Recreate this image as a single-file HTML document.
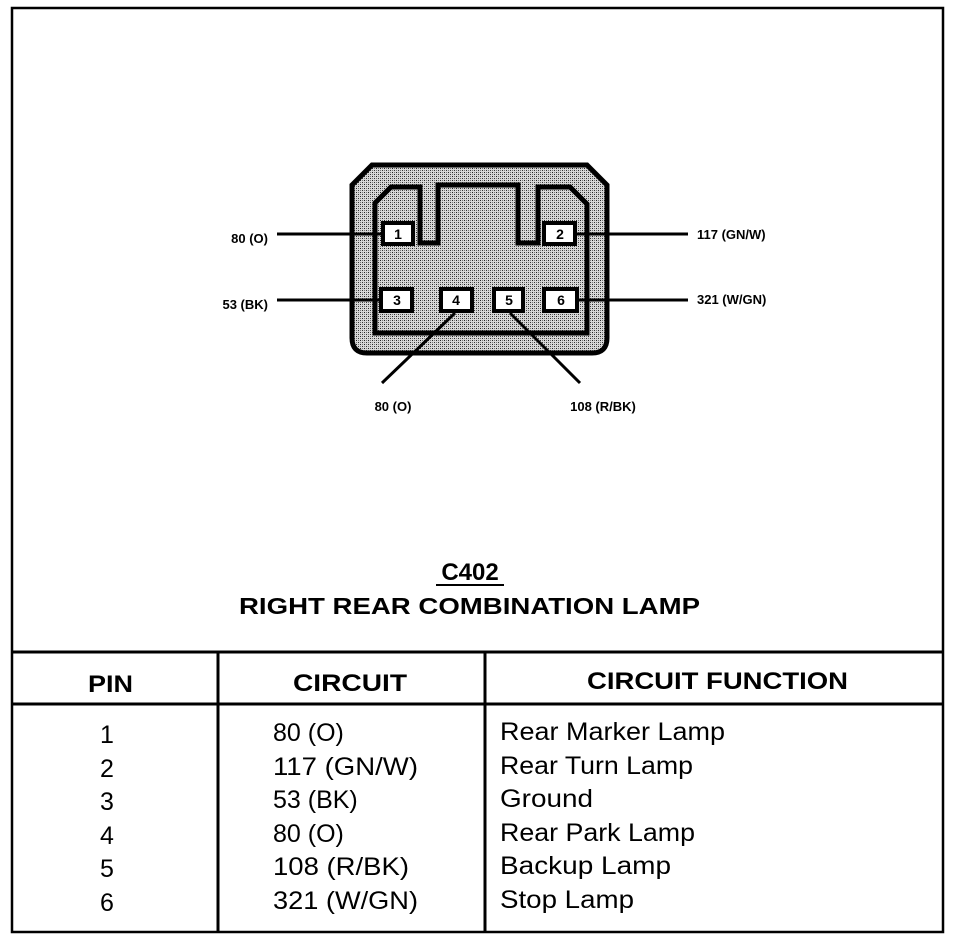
<!DOCTYPE html>
<html><head><style>html,body{margin:0;padding:0;background:#fff}svg{display:block}</style></head>
<body>
<svg width="976" height="940" viewBox="0 0 976 940" xmlns="http://www.w3.org/2000/svg" font-family="Liberation Sans, Arial, sans-serif">
<defs>
<pattern id="dots" width="4" height="4" patternUnits="userSpaceOnUse">
<rect width="4" height="4" fill="#d8d8d8"/>
<rect x="0" y="0" width="1" height="1" fill="#222"/>
<rect x="2" y="2" width="1" height="1" fill="#333"/>
<rect x="2" y="0" width="1" height="1" fill="#777"/>
<rect x="0" y="2" width="1" height="1" fill="#777"/>
</pattern>
</defs>
<rect x="12" y="8" width="931" height="924" fill="none" stroke="#000" stroke-width="2.5"/>
<!-- connector -->
<path d="M372,165 L587,165 L607,185 L607,338 Q607,353 592,353 L367,353 Q352,353 352,338 L352,185 Z" fill="url(#dots)" stroke="#000" stroke-width="5"/>
<path d="M375,203 L391,187 L420,187 L420,243 L438,243 L438,185 L518,185 L518,243 L538,243 L538,187 L570,187 L587,204 L587,333 L375,333 Z" fill="none" stroke="#000" stroke-width="5"/>
<g stroke="#000" stroke-width="3">
<line x1="277" y1="234" x2="382" y2="234"/>
<line x1="575" y1="234" x2="688" y2="234"/>
<line x1="277" y1="300" x2="380" y2="300"/>
<line x1="577" y1="300" x2="688" y2="300"/>
<line x1="455" y1="313" x2="382" y2="383"/>
<line x1="510" y1="313" x2="580" y2="383"/>
</g>
<g fill="#fff" stroke="#000" stroke-width="4">
<rect x="383" y="223" width="30" height="21"/>
<rect x="544" y="223" width="31" height="21"/>
<rect x="381" y="289" width="31" height="22"/>
<rect x="441" y="289" width="31" height="22"/>
<rect x="494" y="289" width="29" height="22"/>
<rect x="544" y="289" width="33" height="22"/>
</g>
<g font-size="14" font-weight="bold" text-anchor="middle">
<text x="398" y="239">1</text><text x="560" y="239">2</text>
<text x="397" y="305">3</text><text x="456" y="305">4</text>
<text x="509" y="305">5</text><text x="561" y="305">6</text>
</g>
<g font-size="13" font-weight="bold">
<text x="268" y="243" text-anchor="end">80 (O)</text>
<text x="268" y="309" text-anchor="end">53 (BK)</text>
<text x="697" y="239">117 (GN/W)</text>
<text x="697" y="304">321 (W/GN)</text>
<text x="393" y="411" text-anchor="middle">80 (O)</text>
<text x="603" y="411" text-anchor="middle">108 (R/BK)</text>
</g>
<text x="470" y="580" font-size="24" font-weight="bold" text-anchor="middle">C402</text>
<line x1="436" y1="585" x2="504" y2="585" stroke="#000" stroke-width="2"/>
<text x="239" y="614" font-size="23" font-weight="bold" textLength="461" lengthAdjust="spacingAndGlyphs">RIGHT REAR COMBINATION LAMP</text>
<!-- table -->
<g stroke="#000" stroke-width="3">
<line x1="12" y1="652" x2="943" y2="652"/>
<line x1="12" y1="704" x2="943" y2="704"/>
<line x1="218" y1="652" x2="218" y2="932"/>
<line x1="485" y1="652" x2="485" y2="932"/>
</g>
<g font-size="24" font-weight="bold">
<text x="88" y="692" textLength="45" lengthAdjust="spacingAndGlyphs">PIN</text>
<text x="293" y="691" textLength="114" lengthAdjust="spacingAndGlyphs">CIRCUIT</text>
<text x="587" y="689" textLength="261" lengthAdjust="spacingAndGlyphs">CIRCUIT FUNCTION</text>
</g>
<g font-size="25">
<text x="107" y="743" text-anchor="middle">1</text>
<text x="107" y="777" text-anchor="middle">2</text>
<text x="107" y="810" text-anchor="middle">3</text>
<text x="107" y="844" text-anchor="middle">4</text>
<text x="107" y="877" text-anchor="middle">5</text>
<text x="107" y="911" text-anchor="middle">6</text>
<text x="273" y="741">80 (O)</text>
<text x="273" y="775" textLength="145" lengthAdjust="spacingAndGlyphs">117 (GN/W)</text>
<text x="273" y="808">53 (BK)</text>
<text x="273" y="842">80 (O)</text>
<text x="273" y="875" textLength="136" lengthAdjust="spacingAndGlyphs">108 (R/BK)</text>
<text x="273" y="909" textLength="145" lengthAdjust="spacingAndGlyphs">321 (W/GN)</text>
<text x="500" y="740" textLength="225" lengthAdjust="spacingAndGlyphs">Rear Marker Lamp</text>
<text x="500" y="774" textLength="193" lengthAdjust="spacingAndGlyphs">Rear Turn Lamp</text>
<text x="500" y="807" textLength="93" lengthAdjust="spacingAndGlyphs">Ground</text>
<text x="500" y="841" textLength="195" lengthAdjust="spacingAndGlyphs">Rear Park Lamp</text>
<text x="500" y="874" textLength="171" lengthAdjust="spacingAndGlyphs">Backup Lamp</text>
<text x="500" y="908" textLength="134" lengthAdjust="spacingAndGlyphs">Stop Lamp</text>
</g>
</svg>
</body></html>
